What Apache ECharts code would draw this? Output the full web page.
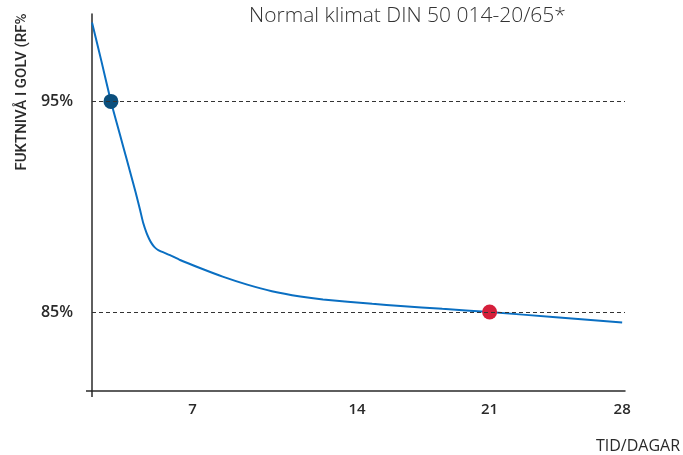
<!DOCTYPE html>
<html><head><meta charset="utf-8">
<script src="https://cdn.jsdelivr.net/npm/echarts@6/dist/echarts.min.js"></script>
<style>html,body{margin:0;padding:0;background:#fff}#c{width:683px;height:455px}</style>
</head><body><div id="c"></div>
<script>
// Drying curve: floor moisture level (RF %) over time in days
const days     = [0, 0.5, 1, 1.3, 1.65, 2.0, 2.3, 2.54, 2.71, 2.89, 3.02, 3.15, 3.3, 3.5, 4.12, 4.65, 5.7, 6.9, 8.2, 9.5, 11, 12.2, 14.8, 16.3, 18.5, 21, 24.5, 28];
const humidity = [98.75, 96.9, 95.0, 94.0, 92.85, 91.7, 90.7, 89.84, 89.21, 88.73, 88.47, 88.26, 88.08, 87.94, 87.7, 87.47, 87.09, 86.68, 86.3, 85.99, 85.74, 85.6, 85.39, 85.29, 85.15, 85.0, 84.75, 84.5];

// Highlighted checkpoints
const startPoint = [1, 95];
const endPoint   = [21, 85];

// Axis labels / reference levels
const dayTicks   = [7, 14, 21, 28];
const levelTicks = [85, 95];

const title  = 'Normal klimat DIN 50 014-20/65*';
const yName  = 'FUKTNIVÅ I GOLV (RF%';
const xName  = 'TID/DAGAR';

const FONT = '"Open Sans", sans-serif';
const INK = '#2a2a2a';

const chart = echarts.init(document.getElementById('c'), null, {renderer: 'canvas'});

chart.setOption({
  animation: false,
  grid: {left: 92, right: 58, top: 14, bottom: 64},
  xAxis: {
    type: 'value', min: 0, max: 28.15,
    axisLine: {lineStyle: {color: INK, width: 1.5}},
    splitLine: {show: false},
    axisTick: {show: true, customValues: [0], length: 6, inside: false, lineStyle: {color: INK, width: 1.5}},
    axisLabel: {
      customValues: dayTicks, margin: 11,
      fontFamily: FONT, fontSize: 15, fontWeight: 600, color: INK,
      formatter: v => v === 7 ? '{s|' + v + '}' : String(v),
      rich: {s: {fontFamily: FONT, fontSize: 15, fontWeight: 600, color: INK, padding: [0, 64, 0, 0]}}
    }
  },
  yAxis: {
    type: 'value', min: 81.25, max: 99.15,
    axisLine: {show: true, lineStyle: {color: INK, width: 1.5}},
    splitLine: {show: false},
    axisTick: {show: true, customValues: [81.25], length: 6, lineStyle: {color: INK, width: 1.5}},
    axisLabel: {
      customValues: levelTicks, margin: 19,
      fontFamily: FONT, fontSize: 16, fontWeight: 600, color: INK,
      formatter: v => v + '%'
    }
  },
  series: [
    {
      type: 'line',
      data: days.map((d, i) => [d, humidity[i]]),
      smooth: 0.2,
      showSymbol: false,
      lineStyle: {color: '#0a6fc2', width: 2},
      markLine: {
        silent: true, symbol: 'none', label: {show: false},
        lineStyle: {color: '#333', type: [4, 3], width: 1.2},
        data: levelTicks.map(v => ({yAxis: v}))
      },
      z: 2
    },
    {
      type: 'scatter',
      data: [startPoint],
      symbolSize: 15,
      itemStyle: {color: '#0b4f7d', opacity: 1},
      z: 3
    },
    {
      type: 'scatter',
      data: [endPoint],
      symbolSize: 15,
      itemStyle: {color: '#d51f3b', opacity: 1},
      z: 3
    }
  ],
  graphic: [
    {
      type: 'text', left: 249, top: 6,
      style: {text: title, fontFamily: FONT, fontSize: 21, fontWeight: 300, fill: '#333'}
    },
    {
      type: 'text', x: 22, y: 92, rotation: Math.PI / 2,
      style: {text: yName, fontFamily: 'Roboto, sans-serif', fontSize: 15, fontWeight: 500, fill: INK, align: 'center', verticalAlign: 'middle'}
    },
    {
      type: 'text', right: 3, top: 438,
      style: {text: xName, fontFamily: FONT, fontSize: 16, fontWeight: 400, fill: INK}
    }
  ]
});
</script>
</body></html>
